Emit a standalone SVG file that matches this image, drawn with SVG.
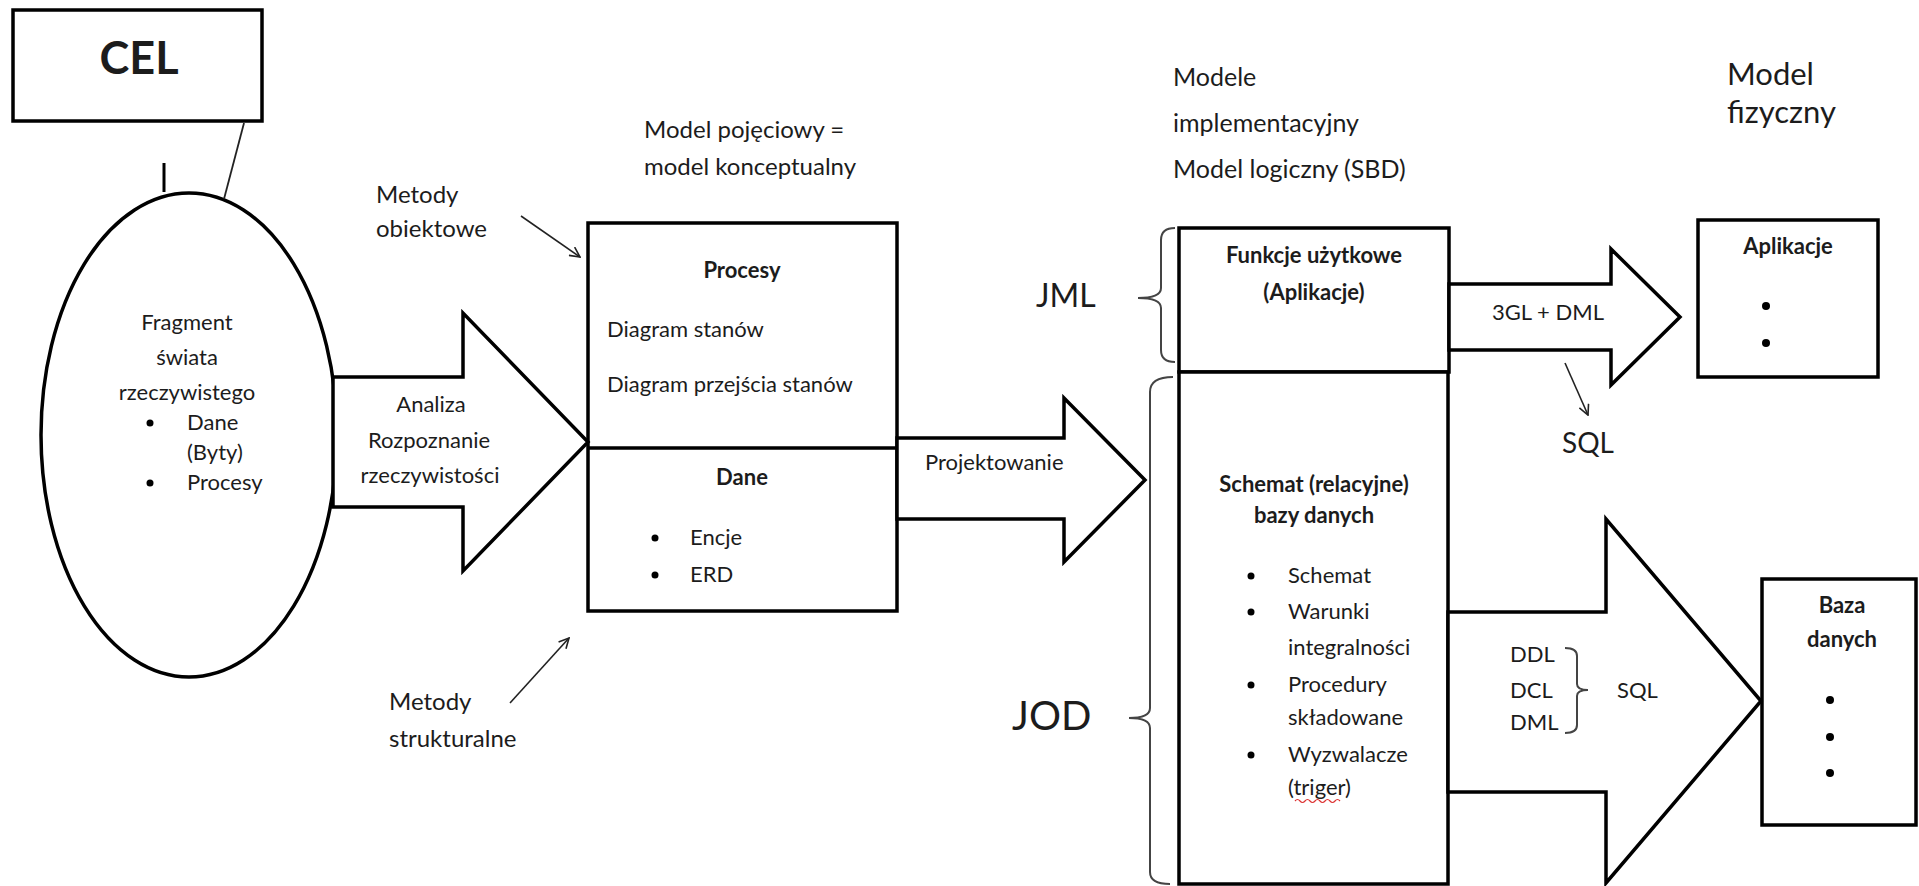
<svg xmlns="http://www.w3.org/2000/svg" width="1919" height="886" viewBox="0 0 1919 886">
  <style>
    text { font-family: Lato, "Liberation Sans", sans-serif; fill: #1c1c1c; }
    .t { font-size: 22px; }
    .tb { font-size: 22px; font-weight: bold; }
    .lbl { font-size: 24px; }
    .big { font-size: 25px; }
    .mid { text-anchor: middle; }
    .box { fill: #fff; stroke: #000; stroke-width: 3.5; }
    .arrow { fill: #fff; stroke: #000; stroke-width: 3.5; stroke-linejoin: miter; }
    .thin { fill: none; stroke: #222; stroke-width: 1.6; }
    .brace { fill: none; stroke: #444; stroke-width: 2; }
    .dot { fill: #000; }
  </style>
  <defs>
    <marker id="open" viewBox="0 0 12 12" refX="11" refY="6" markerWidth="12" markerHeight="12" markerUnits="userSpaceOnUse" orient="auto">
      <path d="M1,1 L11,6 L1,11" fill="none" stroke="#222" stroke-width="1.6"/>
    </marker>
  </defs>

  <rect width="1919" height="886" fill="#fff"/>

  <!-- goal -->
  <g id="cel">
    <rect class="box" x="13" y="10" width="249" height="111"/>
    <text x="139" y="74" class="mid" style="font-size:45px;font-weight:bold">CEL</text>
  </g>

  <!-- real-world fragment -->
  <g id="fragment">
    <ellipse cx="189" cy="435" rx="148" ry="242" fill="#fff" stroke="#000" stroke-width="3.5"/>
    <text x="187" y="330" class="t mid">Fragment</text>
    <text x="187" y="365" class="t mid">świata</text>
    <text x="187" y="400" class="t mid">rzeczywistego</text>
    <circle class="dot" cx="150" cy="423" r="3.5"/>
    <text x="187" y="430" class="t">Dane</text>
    <text x="187" y="460" class="t">(Byty)</text>
    <circle class="dot" cx="150" cy="483" r="3.5"/>
    <text x="187" y="490" class="t">Procesy</text>
  </g>

  <!-- conceptual model -->
  <g id="model-pojeciowy">
    <rect class="box" x="588" y="223" width="309" height="388"/>
    <line x1="588" y1="448" x2="897" y2="448" stroke="#000" stroke-width="3.5"/>
    <text x="742" y="278" class="tb mid">Procesy</text>
    <text x="607" y="337" class="t">Diagram stanów</text>
    <text x="607" y="392" class="t">Diagram przejścia stanów</text>
    <text x="742" y="485" class="tb mid">Dane</text>
    <circle class="dot" cx="655" cy="538" r="3.5"/>
    <text x="690" y="545" class="t">Encje</text>
    <circle class="dot" cx="655" cy="575" r="3.5"/>
    <text x="690" y="582" class="t">ERD</text>
  </g>

  <!-- logical model -->
  <g id="funkcje">
    <rect class="box" x="1179" y="228" width="270" height="144"/>
    <text x="1314" y="263" class="tb mid">Funkcje użytkowe</text>
    <text x="1314" y="300" class="tb mid">(Aplikacje)</text>
  </g>
  <g id="schemat">
    <rect class="box" x="1179" y="372" width="269" height="512"/>
    <text x="1314" y="492" class="tb mid">Schemat (relacyjne)</text>
    <text x="1314" y="523" class="tb mid">bazy danych</text>
    <circle class="dot" cx="1251" cy="576" r="3.5"/>
    <text x="1288" y="583" class="t">Schemat</text>
    <circle class="dot" cx="1251" cy="612" r="3.5"/>
    <text x="1288" y="619" class="t">Warunki</text>
    <text x="1288" y="655" class="t">integralności</text>
    <circle class="dot" cx="1251" cy="685" r="3.5"/>
    <text x="1288" y="692" class="t">Procedury</text>
    <text x="1288" y="725" class="t">składowane</text>
    <circle class="dot" cx="1251" cy="755" r="3.5"/>
    <text x="1288" y="762" class="t">Wyzwalacze</text>
    <text x="1288" y="795" class="t">(triger)</text>
    <path d="M1295,801 q2.5,-3 5,0 t5,0 t5,0 t5,0 t5,0 t5,0 t5,0 t5,0 t5,0" fill="none" stroke="#d33" stroke-width="1.2"/>
  </g>

  <!-- physical model -->
  <g id="aplikacje">
    <rect class="box" x="1698" y="220" width="180" height="157"/>
    <text x="1788" y="254" class="tb mid">Aplikacje</text>
    <circle class="dot" cx="1766" cy="306" r="4"/>
    <circle class="dot" cx="1766" cy="343" r="4"/>
  </g>
  <g id="baza">
    <rect class="box" x="1762" y="579" width="154" height="246"/>
    <text x="1842" y="613" class="tb mid">Baza</text>
    <text x="1842" y="647" class="tb mid">danych</text>
    <circle class="dot" cx="1830" cy="700" r="4"/>
    <circle class="dot" cx="1830" cy="737" r="4"/>
    <circle class="dot" cx="1830" cy="773" r="4"/>
  </g>

  <!-- headings -->
  <g id="naglowki">
    <text x="644" y="138" class="lbl">Model  pojęciowy  =</text>
    <text x="644" y="175" class="lbl">model  konceptualny</text>
    <text x="1173" y="86" class="big">Modele</text>
    <text x="1173" y="132" class="big">implementacyjny</text>
    <text x="1173" y="178" class="big">Model logiczny (SBD)</text>
    <text x="1727" y="85" style="font-size:31px">Model</text>
    <text x="1727" y="123" style="font-size:31px">fizyczny</text>
    <text x="376" y="203" class="lbl">Metody</text>
    <text x="376" y="237" class="lbl">obiektowe</text>
    <text x="389" y="710" class="lbl">Metody</text>
    <text x="389" y="747" class="lbl">strukturalne</text>
    <text x="1036" y="307" style="font-size:32px">JML</text>
    <text x="1012" y="730" style="font-size:40px">JOD</text>
  </g>

  <!-- connectors -->
  <g id="connectors">
    <line x1="244" y1="123" x2="224" y2="199" stroke="#222" stroke-width="1.8"/>
    <line x1="164" y1="163" x2="164" y2="192" stroke="#000" stroke-width="3"/>

    <polygon class="arrow" points="333,377 463,377 463,313 588,442 463,571 463,507 333,507"/>
    <text x="431" y="412" class="t mid">Analiza</text>
    <text x="429" y="448" class="t mid">Rozpoznanie</text>
    <text x="430" y="483" class="t mid">rzeczywistości</text>

    <polygon class="arrow" points="897,438 1064,438 1064,398 1145,480 1064,562 1064,519 897,519"/>
    <text x="925" y="470" class="t">Projektowanie</text>

    <polygon class="arrow" points="1449,284 1611,284 1611,249 1680,317 1611,385 1611,350 1449,350"/>
    <text x="1492" y="320" class="t">3GL + DML</text>

    <polygon class="arrow" points="1448,612 1606,612 1606,519 1761,701 1606,883 1606,792 1448,792"/>
    <text x="1510" y="662" class="t">DDL</text>
    <text x="1510" y="698" class="t">DCL</text>
    <text x="1510" y="730" class="t">DML</text>
    <path class="brace" d="M1565,648 Q1577,648 1577,656 L1577,684 Q1577,690 1588,690 Q1577,690 1577,696 L1577,725 Q1577,733 1565,733"/>
    <text x="1617" y="698" class="t">SQL</text>

    <line class="thin" x1="521" y1="216" x2="580" y2="257" marker-end="url(#open)"/>
    <line class="thin" x1="510" y1="703" x2="569" y2="638" marker-end="url(#open)"/>
    <line class="thin" x1="1565" y1="363" x2="1588" y2="415" marker-end="url(#open)"/>
    <text x="1562" y="453" style="font-size:28px">SQL</text>

    <path class="brace" d="M1175,228 Q1161,228 1161,240 L1161,288 Q1161,298 1138,298 Q1161,298 1161,308 L1161,350 Q1161,362 1175,362"/>
    <path class="brace" d="M1173,377 Q1150,377 1150,392 L1150,708 Q1150,718 1129,718 Q1150,718 1150,728 L1150,872 Q1150,884 1170,884"/>
  </g>
</svg>
